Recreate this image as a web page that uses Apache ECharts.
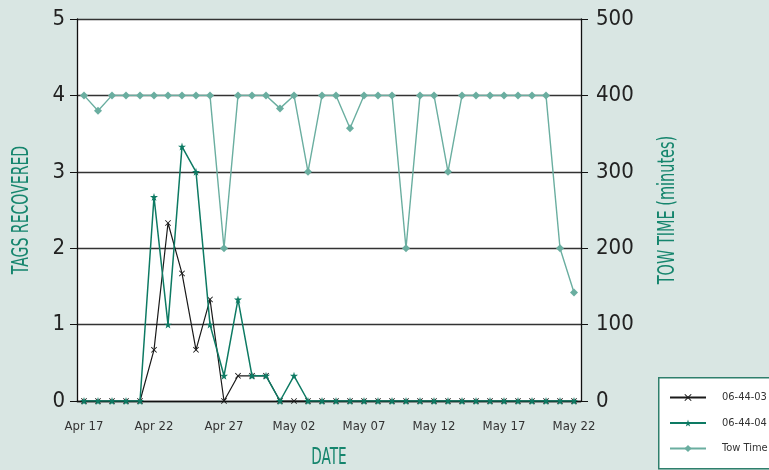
<!DOCTYPE html>
<html><head><meta charset="utf-8">
<script src="https://cdn.jsdelivr.net/npm/echarts@6/dist/echarts.min.js"></script>
<style>html,body{margin:0;padding:0;background:#d9e6e3;}#c{width:769px;height:470px;}</style>
</head><body><div id="c"></div>
<script>
const dates = ['Apr 17','Apr 18','Apr 19','Apr 20','Apr 21','Apr 22','Apr 23','Apr 24','Apr 25','Apr 26',
 'Apr 27','Apr 28','Apr 29','Apr 30','May 01','May 02','May 03','May 04','May 05','May 06',
 'May 07','May 08','May 09','May 10','May 11','May 12','May 13','May 14','May 15','May 16',
 'May 17','May 18','May 19','May 20','May 21','May 22'];
const tags0603 = [0,0,0,0,0,0.67,2.33,1.67,0.67,1.33,0,0.33,0.33,0.33,0,0,0,0,0,0,0,0,0,0,0,0,0,0,0,0,0,0,0,0,0,0];
const tags0604 = [0,0,0,0,0,2.67,1,3.33,3,1,0.33,1.33,0.33,0.33,0,0.33,0,0,0,0,0,0,0,0,0,0,0,0,0,0,0,0,0,0,0,0];
const towTime = [400,380,400,400,400,400,400,400,400,400,200,400,400,400,383,400,300,400,400,357,400,400,400,200,400,400,300,400,400,400,400,400,400,400,200,142];
const leftTicks = [0,1,2,3,4,5];
const rightTicks = [0,100,200,300,400,500];
const xTitle = 'DATE', leftTitle = 'TAGS RECOVERED', rightTitle = 'TOW TIME (minutes)';

const FONT = '"DejaVu Sans",sans-serif';
const FW = 'condensed';
const TEAL = '#15856d';
const C03 = '#1a1a1a', C04 = '#0d7a63', CTOW = '#6aaea0';
const STAR = 'path://M50,0 L61,35 L98,35 L68,57 L79,91 L50,70 L21,91 L32,57 L2,35 L39,35 Z';
const XSYM = 'path://M0,1 L1,0 L5,4 L9,0 L10,1 L6,5 L10,9 L9,10 L5,6 L1,10 L0,9 L4,5 Z';
const titleStyle = (t) => ({text: t, fill: TEAL, fontFamily: FONT, fontWeight: FW, fontSize: 23, align: 'center', verticalAlign: 'middle'});

const chart = echarts.init(document.getElementById('c'));
chart.setOption({
  backgroundColor: '#d9e6e3',
  animation: false,
  grid: {left: 77, right: 188, top: 19, bottom: 69, show: true, backgroundColor: '#ffffff', borderWidth: 0,
         containLabel: false, outerBoundsMode: 'none'},
  graphic: [{
    type: 'rect', left: 658, top: 377, z: 0,
    shape: {width: 130, height: 91},
    style: {fill: '#ffffff', stroke: '#2f7f6c', lineWidth: 1.5}
  }, {
    type: 'text', x: 329, y: 458, scaleX: 0.66, style: titleStyle(xTitle)
  }, {
    type: 'text', x: 22, y: 210, rotation: Math.PI / 2, scaleX: 0.68, style: titleStyle(leftTitle)
  }, {
    type: 'text', x: 668, y: 210, rotation: Math.PI / 2, scaleX: 0.70, style: titleStyle(rightTitle)
  }],
  legend: {
    orient: 'vertical', left: 664, top: 387, itemGap: 14.5,
    itemWidth: 36, itemHeight: 9,
    textStyle: {fontFamily: FONT, fontWeight: FW, fontSize: 11, color: '#333', padding: [0,0,0,11]},
    data: ['06-44-03','06-44-04','Tow Time']
  },
  xAxis: {
    type: 'category', data: dates, boundaryGap: true,
    axisLine: {lineStyle: {color: '#111', width: 1.3}},
    axisTick: {alignWithLabel: true, interval: 4, length: 5, lineStyle: {color: '#111'}},
    axisLabel: {interval: 4, fontFamily: FONT, fontWeight: FW, fontSize: 13, color: '#333', margin: 19}
  },
  yAxis: [{
    type: 'value', min: leftTicks[0], max: leftTicks[leftTicks.length-1], interval: 1,
    axisLine: {show: true, lineStyle: {color: '#111', width: 1.3}},
    axisTick: {show: true, length: 7, lineStyle: {color: '#111'}},
    axisLabel: {fontFamily: FONT, fontWeight: FW, fontSize: 22, color: '#222', margin: 12},
    splitLine: {lineStyle: {color: '#333', width: 1.3}}
  }, {
    type: 'value', min: rightTicks[0], max: rightTicks[rightTicks.length-1], interval: 100,
    axisLine: {show: true, lineStyle: {color: '#111', width: 1.3}},
    axisTick: {show: true, length: 7, lineStyle: {color: '#111'}},
    axisLabel: {fontFamily: FONT, fontWeight: FW, fontSize: 22, color: '#222', margin: 15},
    splitLine: {show: false}
  }],
  series: [{
    name: '06-44-03', type: 'line', data: tags0603, yAxisIndex: 0,
    symbol: XSYM, symbolSize: 6, showAllSymbol: true,
    lineStyle: {color: C03, width: 1.2}, itemStyle: {color: C03}, z: 3
  }, {
    name: '06-44-04', type: 'line', data: tags0604, yAxisIndex: 0,
    symbol: STAR, symbolSize: 8, showAllSymbol: true,
    lineStyle: {color: C04, width: 1.5}, itemStyle: {color: C04}, z: 4
  }, {
    name: 'Tow Time', type: 'line', data: towTime, yAxisIndex: 1,
    symbol: 'diamond', symbolSize: 8, showAllSymbol: true,
    lineStyle: {color: CTOW, width: 1.4}, itemStyle: {color: CTOW}, z: 5
  }]
});
</script></body></html>
